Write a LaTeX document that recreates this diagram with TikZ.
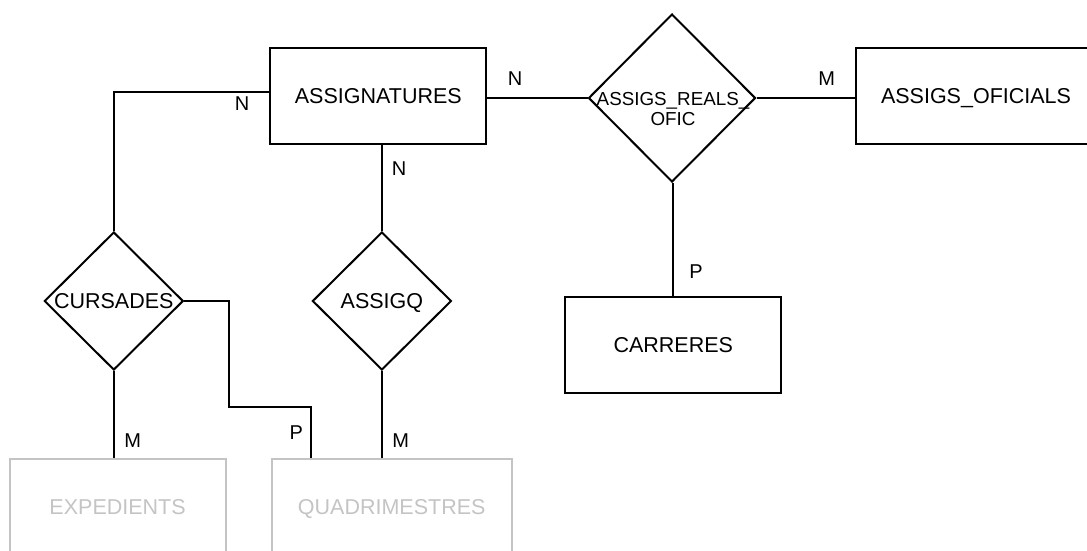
\documentclass[tikz,border=0pt]{standalone}
\usepackage{fontspec}
\setmainfont{Liberation Sans}
\usepackage{xcolor}
\usepackage{tikz}
\usetikzlibrary{shapes.geometric, positioning, calc}
\definecolor{faded}{HTML}{C4C4C4}
\tikzset{
        entity/.style={rectangle, draw, line width=2pt, minimum width=216pt, minimum height=96pt, inner sep=0pt, text height=15.5pt, text depth=0pt, font=\fontsize{21.5}{25}\selectfont},
        entitywide/.style={entity, minimum width=240pt},
        ghost/.style={draw=faded, text=faded},
        relship/.style={diamond, draw, line width=2pt, aspect=1, inner sep=0pt, minimum width=139pt, minimum height=138pt, text height=15.5pt, text depth=0pt, font=\fontsize{21.5}{25}\selectfont},
        link/.style={line width=2pt},
        card/.style={inner sep=0pt, font=\fontsize{20}{24}\selectfont},
    }

\begin{document}
\begin{tikzpicture}[x=1pt, y=-1pt]
        \useasboundingbox (0,0) rectangle (1087,550);
        \clip (0,0) rectangle (1087,550);

        % Entities
        \node[entity] (assig) at (378.3,96) {ASSIGNATURES};
        \node[entitywide] (oficials) at (976,96) {ASSIGS\_OFICIALS};
        \node[entity] (carreres) at (673.3,345) {CARRERES};
        \node[entity, ghost] (exped) at (117.6,507) {EXPEDIENTS};
        \node[entitywide, ghost] (quadri) at (391.7,507) {QUADRIMESTRES};

        % Relationships
        \node[relship] (cursades) at (113.8,301) {CURSADES};
        \node[relship] (assigq) at (381.9,301) {ASSIGQ};
        \node[relship, minimum width=167pt, minimum height=168pt] (reals) at (672,98) {};
        \node[align=center, inner sep=0pt, font=\fontsize{18.8}{20.5}\selectfont] (realstxt) at (673,109) {ASSIGS\_REALS\_\\OFIC};

        % Connectors
        \draw[link] ([yshift=4pt]assig.west) -| (cursades.north);
        \draw[link] (assigq.north |- assig.south) -- (assigq.north);
        \draw[link] (assig.east |- reals.west) -- (reals.west);
        \draw[link] (reals.east) -- (oficials.west |- reals.east);
        \draw[link] (carreres.north |- reals.south) -- (carreres.north);
        \draw[link] (cursades.south) -- (cursades.south |- exped.north);
        \draw[link] (assigq.south) -- (assigq.south |- quadri.north);
        \coordinate (elbow) at (228.7,407.3);
        \draw[link] (cursades.east) -| (elbow) -| ([xshift=40pt]quadri.north west);

        % Cardinalities
        \node[card] (nleft) at (242,104) {N};
        \node[card] (nbelow) at (399,169) {N};
        \node[card] (nright) at (515,79) {N};
        \node[card] (mofic) at (826.7,79) {M};
        \node[card] (pcarr) at (696,272) {P};
        \node[card] (mexp) at (132.6,441) {M};
        \node[card] (pquad) at (296.4,432.7) {P};
        \node[card] (mquad) at (400.6,441) {M};
    \end{tikzpicture}
\end{document}
